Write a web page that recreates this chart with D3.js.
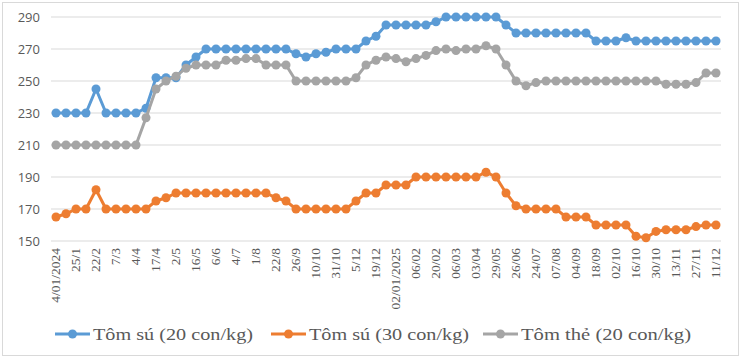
<!DOCTYPE html>
<html><head><meta charset="utf-8">
<script src="https://cdn.jsdelivr.net/npm/d3@7"></script>
<style>body{margin:0;background:#fff}svg{display:block}</style>
</head><body><svg id="c" width="742" height="360"></svg>
<script>
const labels = ["4/01/2024","25/1","22/2","7/3","4/4","17/4","2/5","16/5","6/6","4/7","1/8","22/8","26/9","10/10","31/10","5/12","19/12","02/01/2025","06/02","20/02","06/03","03/04","29/05","26/06","24/07","07/08","04/09","18/09","02/10","16/10","30/10","13/11","27/11","11/12"];
const suLon = [230,230,230,230,245,230,230,230,230,233,252,252,252,260,265,270,270,270,270,270,270,270,270,270,267,265,267,268,270,270,270,275,278,285,285,285,285,285,287,290,290,290,290,290,290,285,280,280,280,280,280,280,280,280,275,275,275,277,275,275,275,275,275,275,275,275,275];
const suNho = [165,167,170,170,182,170,170,170,170,170,175,177,180,180,180,180,180,180,180,180,180,180,177,175,170,170,170,170,170,170,175,180,180,185,185,185,190,190,190,190,190,190,190,193,190,180,172,170,170,170,170,165,165,165,160,160,160,160,153,152,156,157,157,157,159,160,160];
const the = [210,210,210,210,210,210,210,210,210,227,245,250,253,258,260,260,260,263,263,264,264,260,260,260,250,250,250,250,250,250,252,260,263,265,264,262,264,266,269,270,269,270,270,272,270,260,250,247,249,250,250,250,250,250,250,250,250,250,250,250,250,248,248,248,249,255,255];
const seriesNames = ["Tôm sú (20 con/kg)","Tôm sú (30 con/kg)","Tôm thẻ (20 con/kg)"];
const colors = ["#5B9BD5","#ED7D31","#A5A5A5"];
const yTicks = [150,170,190,210,230,250,270,290];

const svg = d3.select("#c");
svg.append("rect").attr("x",2.5).attr("y",2.5).attr("width",736).attr("height",353)
  .attr("fill","#fff").attr("stroke","#d9d9d9");

const idx = d3.range(suLon.length);
const x = d3.scalePoint().domain(idx).range([51,721]).padding(0.5);
const y = d3.scaleLinear().domain([150,290]).range([241,17]);

const g = svg.append("g");
g.selectAll("line.grid").data(yTicks).join("line").attr("class","grid")
  .attr("x1",51).attr("x2",721).attr("y1",d=>y(d)).attr("y2",d=>y(d))
  .attr("stroke","#d9d9d9").attr("stroke-width",1);
g.selectAll("text.yl").data(yTicks).join("text").attr("class","yl")
  .attr("x",40).attr("y",d=>y(d)).attr("dy","0.35em").attr("text-anchor","end")
  .attr("font-family","'Open Sans','Liberation Sans',sans-serif").attr("font-size",13)
  .attr("fill","#595959").text(d=>d);

g.selectAll("text.xl").data(labels).join("text").attr("class","xl")
  .attr("transform",(d,i)=>`translate(${x(i*2)+4},248) rotate(-90)`)
  .attr("text-anchor","end")
  .attr("font-family","'Liberation Serif',serif").attr("font-size",13.5)
  .attr("fill","#595959").text(d=>d);

const all = [suLon,suNho,the];
const line = d3.line().x((d,i)=>x(i)).y(d=>y(d));
all.forEach((s,k)=>{
  g.append("path").datum(s).attr("d",line).attr("fill","none")
    .attr("stroke",colors[k]).attr("stroke-width",3).attr("stroke-linejoin","round");
  g.selectAll("circle.s"+k).data(s).join("circle").attr("class","s"+k)
    .attr("cx",(d,i)=>x(i)).attr("cy",d=>y(d)).attr("r",4.5).attr("fill",colors[k]);
});

const legX = [55,271,483];
const legW = [160,160,170];
const lg = svg.append("g");
seriesNames.forEach((n,k)=>{
  const lx = legX[k];
  lg.append("line").attr("x1",lx).attr("x2",lx+35).attr("y1",334).attr("y2",334)
    .attr("stroke",colors[k]).attr("stroke-width",3);
  lg.append("circle").attr("cx",lx+17.5).attr("cy",334).attr("r",4.5).attr("fill",colors[k]);
  lg.append("text").attr("x",lx+38).attr("y",334).attr("dy","0.35em")
    .attr("font-family","'Liberation Serif',serif").attr("font-size",17)
    .attr("textLength",legW[k]).attr("lengthAdjust","spacingAndGlyphs")
    .attr("fill","#595959").text(n);
});
</script></body></html>
